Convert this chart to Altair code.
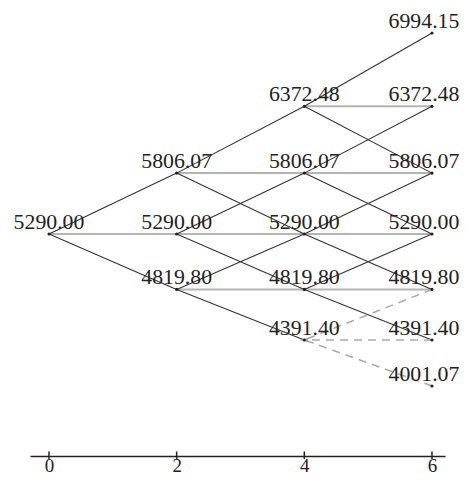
import altair as alt
import pandas as pd

# ---- data ----
steps = [0, 2, 4, 6]
prices_t0 = [5290.00]
prices_t2 = [5806.07, 5290.00, 4819.80]
prices_t4 = [6372.48, 5806.07, 5290.00, 4819.80, 4391.40]
prices_t6 = [6994.15, 6372.48, 5806.07, 5290.00, 4819.80, 4391.40, 4001.07]
columns = [prices_t0, prices_t2, prices_t4, prices_t6]

# node whose incoming (back-drawn) branches are dashed
dashed_step = 4
dashed_price = 4391.40

tick_values = [0, 2, 4, 6]
x_domain = [-0.2977, 6.204]
y_domain = [3407.5, 7206.1]

# ---- tables built from the arrays ----
nodes = pd.DataFrame(
    [{"t": t, "price": p} for t, col in zip(steps, columns) for p in col]
)

edges = []
for k in range(len(columns) - 1):
    t0, t1 = steps[k], steps[k + 1]
    for i, p in enumerate(columns[k]):
        for j in range(3):
            q = columns[k + 1][i + j]
            if t0 == dashed_step and p == dashed_price:
                edges.append({"t": t1, "price": q, "t2": t0, "price2": p, "kind": "dashed"})
                continue
            kind = "flat" if j == 1 else "diag"
            edges.append({"t": t0, "price": p, "t2": t1, "price2": q, "kind": kind})
edges = pd.DataFrame(edges)

arrow = pd.DataFrame({"t": [dashed_step], "price": [dashed_price]})
ticks = pd.DataFrame({"t": tick_values, "base": [y_domain[0]] * len(tick_values)})

FONT = "Liberation Serif"
last_step = steps[-1]

xs = alt.Scale(domain=x_domain, nice=False, zero=False)
ys = alt.Scale(domain=y_domain, nice=False, zero=False)

x_axis = alt.Axis(
    values=tick_values, format="d", title=None, grid=False,
    labelFont=FONT, labelFontSize=19, labelColor="#222",
    labelBaseline="alphabetic", labelPadding=15.5,
    domainColor="#222", domainWidth=1.5, ticks=False,
    labelFlush=False,
)

base = alt.Chart(edges)

def seg(kind, **mk):
    return base.transform_filter(alt.datum.kind == kind).mark_rule(**mk).encode(
        x=alt.X("t:Q", scale=xs, axis=x_axis),
        y=alt.Y("price:Q", scale=ys, axis=None),
        x2="t2:Q",
        y2="price2:Q",
    )

flat = seg("flat", color="#b4b4b4", strokeWidth=2)
diag = seg("diag", color="#333333", strokeWidth=1.1)
dashed = seg("dashed", color="#aaaaaa", strokeWidth=1.5, strokeDash=[8, 6])

arrow_head = alt.Chart(arrow).mark_point(
    shape="M -1 0 L 1 -0.45 L 0.6 0 L 1 0.45 Z", size=90, filled=True,
    color="#9a9a9a", opacity=1, dx=6,
).encode(x=alt.X("t:Q", scale=xs), y=alt.Y("price:Q", scale=ys))

pts = alt.Chart(nodes).mark_circle(size=10, color="#222", opacity=1).encode(
    x=alt.X("t:Q", scale=xs), y=alt.Y("price:Q", scale=ys)
)

def label_layer(test, dx):
    return alt.Chart(nodes).transform_filter(test).mark_text(
        font=FONT, fontSize=21.8, color="#222", align="center",
        baseline="alphabetic", dy=-5, dx=dx,
    ).encode(
        x=alt.X("t:Q", scale=xs),
        y=alt.Y("price:Q", scale=ys),
        text=alt.Text("price:Q", format=".2f"),
    )

labels_inner = label_layer(alt.datum.t < last_step, 0)
labels_last = label_layer(alt.datum.t == last_step, -8)

tick_marks = alt.Chart(ticks).mark_rule(
    color="#222", strokeWidth=1.5, yOffset=-4.5, y2Offset=3,
).encode(
    x=alt.X("t:Q", scale=xs),
    y=alt.Y("base:Q", scale=ys),
    y2="base:Q",
)

chart = alt.layer(
    flat, diag, dashed, arrow_head, pts, labels_inner, labels_last, tick_marks
).properties(
    width=415, height=448,
    autosize=alt.AutoSizeParams(type="none"),
    padding={"left": 22, "top": 0, "right": 16, "bottom": 20},
).configure_view(stroke=None)

chart.save("out.html", embed_options={"renderer": "svg", "actions": False})
